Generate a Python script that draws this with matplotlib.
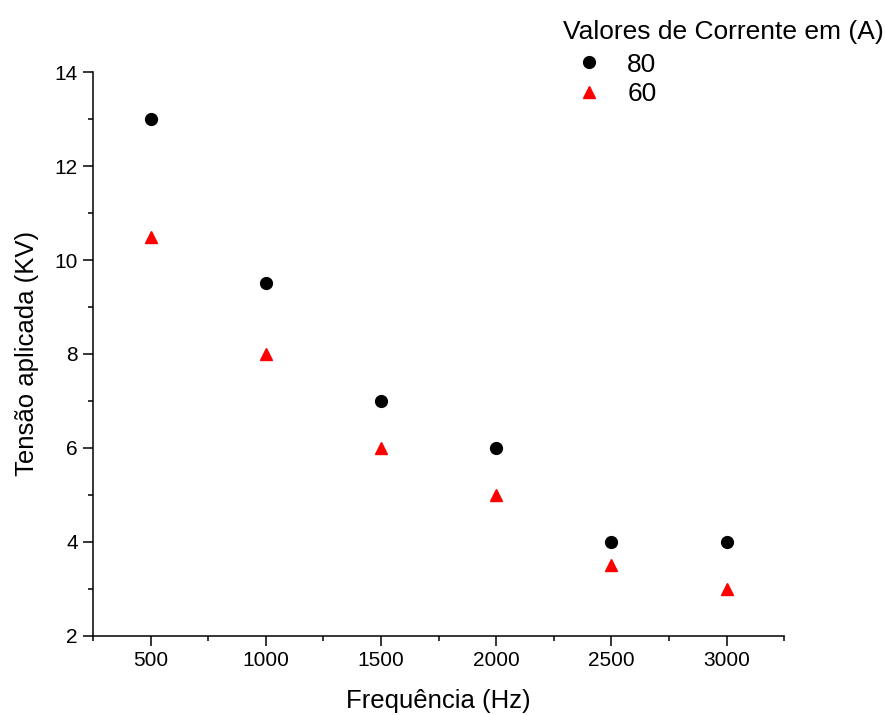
import matplotlib
matplotlib.use('Agg')
import matplotlib.pyplot as plt
from matplotlib.ticker import MultipleLocator

plt.rcParams['font.family'] = ['Liberation Sans', 'DejaVu Sans']

# Dados
freq = [500, 1000, 1500, 2000, 2500, 3000]
tensao_80 = [13, 9.5, 7, 6, 4, 4]
tensao_60 = [10.5, 8, 6, 5, 3.5, 3]
x_ticks = [500, 1000, 1500, 2000, 2500, 3000]
y_ticks = [2, 4, 6, 8, 10, 12, 14]

fig = plt.figure(figsize=(8.85, 7.15), dpi=100)
ax = fig.add_axes([0.105, 0.111, 0.781, 0.788])

ax.plot(freq, tensao_80, 'o', color='black', markersize=8.5, label='80')
ax.plot(freq, tensao_60, '^', color='red', markersize=9, label='60')

ax.set_xlim(250, 3250)
ax.set_ylim(2, 14)
ax.set_xticks(x_ticks)
ax.set_yticks(y_ticks)
ax.xaxis.set_minor_locator(MultipleLocator(250))
ax.yaxis.set_minor_locator(MultipleLocator(1))

for s in ['top', 'right']:
    ax.spines[s].set_visible(False)
for s in ['left', 'bottom']:
    ax.spines[s].set_linewidth(1.1)

ax.tick_params(which='major', direction='out', length=7, width=1.1, labelsize=15, pad=4)
ax.tick_params(which='minor', direction='out', length=3.5, width=1.1)

ax.set_xlabel('Frequência (Hz)', fontsize=18.5, labelpad=14)
ax.set_ylabel('Tensão aplicada (KV)', fontsize=18.5, labelpad=11)

leg = fig.legend(loc='upper right', bbox_to_anchor=(1.013, 0.99), frameon=False,
                 title='Valores de Corrente em (A)', title_fontsize=19, fontsize=19,
                 alignment='left', handlelength=2.0, handletextpad=0.45,
                 labelspacing=0.22, borderpad=0.3, borderaxespad=0.2)
leg._legend_box.sep = 6

fig.savefig('out.png', dpi=100)
